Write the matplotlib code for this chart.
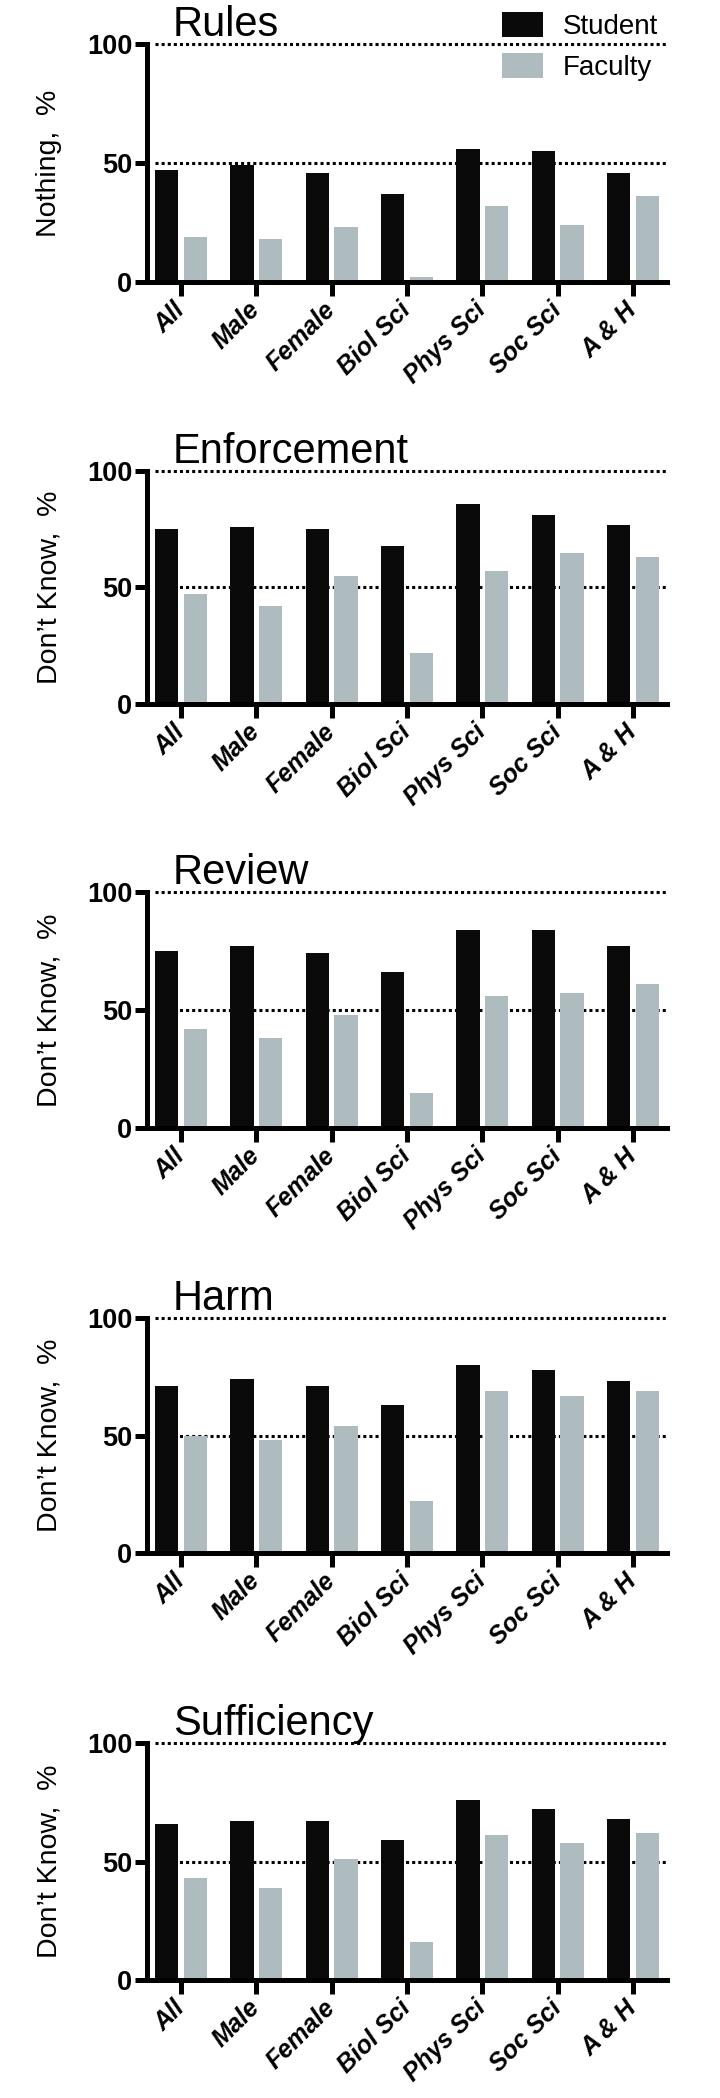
import matplotlib
matplotlib.use("Agg")
from matplotlib import pyplot as plt
import numpy as np

groups = ["All", "Male", "Female", "Biol Sci", "Phys Sci", "Soc Sci", "A & H"]
titles = ["Rules", "Enforcement", "Review", "Harm", "Sufficiency"]
ylabels = ["Nothing,  %", "Don\u2019t Know,  %", "Don\u2019t Know,  %",
           "Don\u2019t Know,  %", "Don\u2019t Know,  %"]

student_rules = [47, 49, 46, 37, 56, 55, 46]
faculty_rules = [19, 18, 23, 2, 32, 24, 36]
student_enforcement = [75, 76, 75, 68, 86, 81, 77]
faculty_enforcement = [47, 42, 55, 22, 57, 65, 63]
student_review = [75, 77, 74, 66, 84, 84, 77]
faculty_review = [42, 38, 48, 15, 56, 57, 61]
student_harm = [71, 74, 71, 63, 80, 78, 73]
faculty_harm = [50, 48, 54, 22, 69, 67, 69]
student_suff = [66, 67, 67, 59, 76, 72, 68]
faculty_suff = [43, 39, 51, 16, 61, 58, 62]

students = [student_rules, student_enforcement, student_review, student_harm, student_suff]
faculty = [faculty_rules, faculty_enforcement, faculty_review, faculty_harm, faculty_suff]

fam = ["Liberation Sans", "DejaVu Sans"]

W, H = 720, 2098
fig = plt.figure(figsize=(W / 100, H / 100), dpi=100)

# panel top (y=100) and bottom (y=0) in pixels
panel_px = [(44, 282), (471, 704), (892, 1128), (1318, 1553), (1743, 1980)]
left_px, right_px = 147, 667

black = "#0a0a0a"
grey = "#aebcc0"
x = np.arange(len(groups))
bw = 0.31

for i, (top, bot) in enumerate(panel_px):
    ax = fig.add_axes([left_px / W, 1 - bot / H, (right_px - left_px) / W, (bot - top) / H])
    for lvl in (50, 100):
        ax.axhline(lvl, xmin=0.015, xmax=1, color="black", lw=2.2,
                   linestyle=(0, (1, 1)), zorder=0, clip_on=False)
    b1 = ax.bar(x - 0.19, students[i], width=bw, color=black, zorder=2, label="Student")
    b2 = ax.bar(x + 0.19, faculty[i], width=bw, color=grey, zorder=2, label="Faculty")

    ax.set_xlim(-0.45, 6.45)
    ax.set_ylim(0, 100)
    ax.set_yticks([0, 50, 100])
    ax.set_xticks(x)
    for s in ("top", "right"):
        ax.spines[s].set_visible(False)
    for s in ("left", "bottom"):
        ax.spines[s].set_linewidth(3.6)
        ax.spines[s].set_capstyle("projecting")
    ax.tick_params(axis="y", length=9, width=3.6, pad=1.5)
    ax.tick_params(axis="x", length=10, width=3.6, pad=4)
    ax.set_yticklabels(["0", "50", "100"], family=fam, fontweight="bold", fontsize=19.5)
    ax.set_xticklabels(groups, family=fam, fontweight="bold", style="italic",
                       fontsize=18, rotation=45, ha="right", va="center",
                       rotation_mode="anchor")
    for lab in ax.get_xticklabels():
        lab.set_y(-0.02)
    ax.set_ylabel(ylabels[i], family=fam, fontsize=20.5)
    ax.yaxis.set_label_coords(-0.163, 0.5)
    ax.text(0.05, 1.034, titles[i], transform=ax.transAxes, family=fam,
            fontsize=30, va="baseline", ha="left")

    if i == 0:
        ax.legend(handles=[b1, b2], loc="upper left", frameon=False,
                  bbox_to_anchor=(502 / W, 1 - 12 / H), bbox_transform=fig.transFigure,
                  prop={"family": fam, "size": 20}, handlelength=1.47,
                  handleheight=1.0, handletextpad=0.72, labelspacing=0.48,
                  borderpad=0, borderaxespad=0)

fig.savefig("out.png", dpi=100)
